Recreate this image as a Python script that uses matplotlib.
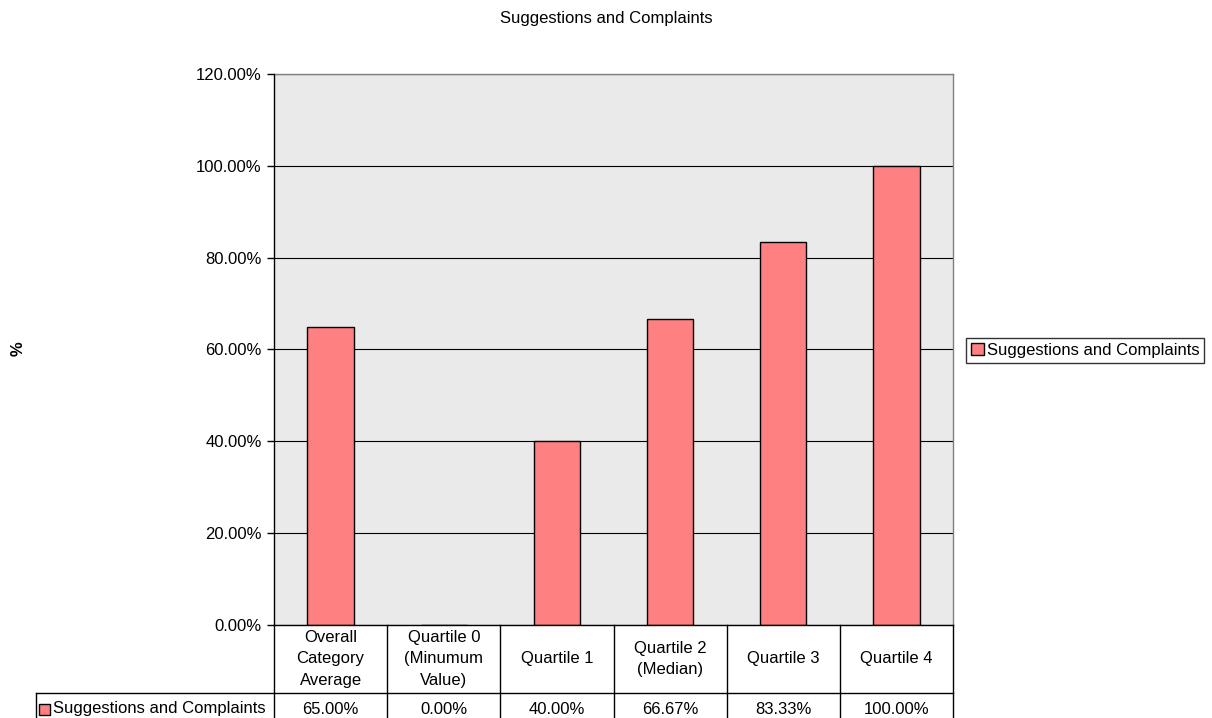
import matplotlib
matplotlib.use("Agg")
import matplotlib.pyplot as plt
from matplotlib.lines import Line2D
from matplotlib.patches import Rectangle
from matplotlib.ticker import FuncFormatter, MultipleLocator

plt.rcParams['font.family'] = ['Liberation Sans', 'DejaVu Sans']

title = "Suggestions and Complaints"
series_name = "Suggestions and Complaints"
categories = ["Overall\nCategory\nAverage", "Quartile 0\n(Minumum\nValue)", "Quartile 1",
              "Quartile 2\n(Median)", "Quartile 3", "Quartile 4"]
values = [0.65, 0.00, 0.40, 0.6667, 0.8333, 1.00]
value_labels = ["65.00%", "0.00%", "40.00%", "66.67%", "83.33%", "100.00%"]

W, H = 1212, 718
fig = plt.figure(figsize=(W / 100, H / 100), dpi=100)


def fx(x):
    return x / W


def fy(y):
    return 1 - y / H


# plot area in pixel terms
L, R, T, B = 274, 953, 74, 625
ax = fig.add_axes([fx(L), fy(B), fx(R - L), (B - T) / H])
ax.set_facecolor("#EAEAEA")

x = list(range(len(values)))
ax.bar(x, values, width=0.41, color="#FF8080", edgecolor="black", linewidth=1.0, zorder=3,
       label=series_name)
ax.set_xlim(-0.5, len(values) - 0.5)
ax.set_ylim(0, 1.2)
ax.yaxis.set_major_locator(MultipleLocator(0.2))
ax.yaxis.set_major_formatter(FuncFormatter(lambda v, p: f"{v * 100:.2f}%"))
ax.grid(axis="y", color="black", linewidth=0.8, zorder=1)
ax.set_xticks([])
ax.tick_params(axis="y", direction="out", length=5, width=1, labelsize=12, pad=4)
for s in ("top", "right"):
    ax.spines[s].set_color("#808080")
    ax.spines[s].set_linewidth(1)
for s in ("left", "bottom"):
    ax.spines[s].set_color("black")
    ax.spines[s].set_linewidth(1)
    ax.spines[s].set_zorder(4)

fig.text(0.5, fy(18), title, ha="center", va="center", fontsize=12)
fig.text(fx(18), fy(349), "%", ha="center", va="center", fontsize=12, fontweight="bold",
         rotation=90)

leg = fig.legend(loc="center left", bbox_to_anchor=(fx(966), fy(350)),
                 bbox_transform=fig.transFigure, frameon=True, fancybox=False,
                 edgecolor="black", fontsize=12, handlelength=0.75, handleheight=0.75,
                 handletextpad=0.2, borderpad=0.3, borderaxespad=0)
leg.get_frame().set_linewidth(1)

# data table under the plot
col_w = (R - L) / len(values)
row1_bottom = 693


def line(x0, y0, x1, y1):
    fig.add_artist(Line2D([fx(x0), fx(x1)], [fy(y0), fy(y1)], color="black", linewidth=1,
                          transform=fig.transFigure))


for i in range(len(values) + 1):
    xv = L + i * col_w
    line(xv, B, xv, H + 2)
line(36, row1_bottom, R, row1_bottom)
line(36, row1_bottom, 36, H + 2)

for i, (cat, lab) in enumerate(zip(categories, value_labels)):
    cx = L + (i + 0.5) * col_w
    fig.text(fx(cx), fy(659), cat, ha="center", va="center", fontsize=12,
             linespacing=1.55)
    fig.text(fx(cx), fy(709), lab, ha="center", va="center", fontsize=12)

fig.add_artist(Rectangle((fx(39), fy(715)), fx(11), 11 / H, facecolor="#FF8080",
                         edgecolor="black", linewidth=1, transform=fig.transFigure))
fig.text(fx(53), fy(709), series_name, ha="left", va="center", fontsize=12)

fig.savefig("out.png", dpi=100)
